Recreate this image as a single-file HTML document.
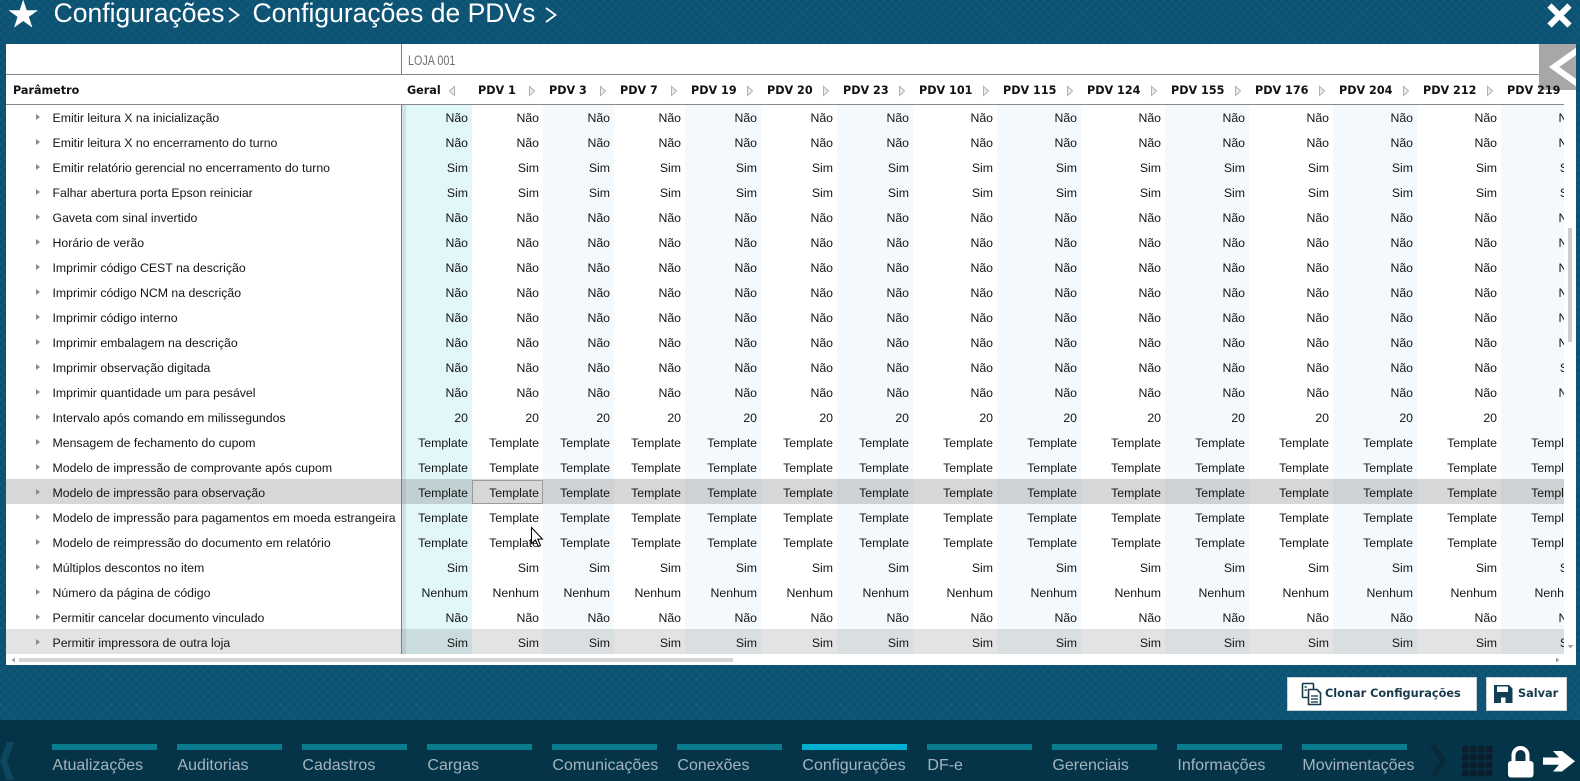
<!DOCTYPE html>
<html><head><meta charset="utf-8">
<style>
*{margin:0;padding:0;box-sizing:border-box}
html,body{width:1580px;height:781px;overflow:hidden}
body{position:relative;background-color:#0b5273;background-image:repeating-linear-gradient(45deg,rgba(255,255,255,.035) 0 1px,transparent 1px 6px),repeating-linear-gradient(-45deg,rgba(255,255,255,.035) 0 1px,transparent 1px 6px);font-family:"Liberation Sans",sans-serif}
.a{position:absolute}
.tt{position:absolute;top:0px;font:26.5px/26px "Liberation Sans",sans-serif;color:#fff;white-space:nowrap}
.h{position:absolute;top:76px;line-height:30px;font:bold 11.2px/30px "DejaVu Sans",sans-serif;color:#111;white-space:nowrap}
.lt{background:#f3f9fd}
.wrap{position:absolute;left:6px;top:106px;width:1558px;height:550px;overflow:hidden}
.t{border-collapse:collapse;table-layout:fixed;width:1579px;font:12.3px "Liberation Sans",sans-serif;color:#141414}
.t td{height:25px;padding:0 4px 0 0;text-align:right;white-space:nowrap;overflow:hidden;line-height:25px}
.t td.p{text-align:left;padding-left:46.5px;position:relative}
.t td.p:before{content:"";position:absolute;left:30px;top:8px;border-left:4px solid #8a8a8a;border-top:3.5px solid transparent;border-bottom:3.5px solid transparent}
.nav{position:absolute;left:0;top:720px;width:1580px;height:61px;background:#053449}
.tabs{position:absolute;left:0;top:720px;width:1417px;height:61px;overflow:hidden}
.nb{position:absolute;top:24px;width:105px;height:6px;background:#0a7c8e}
.nl{position:absolute;top:35px;font:16px/22px "Liberation Sans",sans-serif;color:#a3b4bd;white-space:nowrap}
.btn{position:absolute;top:677px;height:34px;background:#fff;border:1px solid #c9cfd3}
.bt{position:absolute;top:0;line-height:32px;font:bold 11.3px/32px "DejaVu Sans",sans-serif;color:#17394b;white-space:nowrap}
</style></head><body>

<div class="tt" style="left:53.6px">Configurações</div>
<div class="tt" style="left:252.5px">Configurações de PDVs</div>

<!-- panel -->
<div class="a" style="left:6px;top:44px;width:1570px;height:621px;background:#fff"></div>

<!-- stripes -->
<div class="a" style="left:402px;top:105px;width:4px;height:549px;background:#d0e4e7"></div>
<div class="a" style="left:406px;top:105px;width:66px;height:549px;background:#e2f7fa"></div>
<div class="a lt" style="left:543px;top:105px;width:71px;height:549px"></div>
<div class="a lt" style="left:685px;top:105px;width:76px;height:549px"></div>
<div class="a lt" style="left:837px;top:105px;width:76px;height:549px"></div>
<div class="a lt" style="left:997px;top:105px;width:84px;height:549px"></div>
<div class="a lt" style="left:1165px;top:105px;width:84px;height:549px"></div>
<div class="a lt" style="left:1333px;top:105px;width:84px;height:549px"></div>
<div class="a lt" style="left:1501px;top:105px;width:63px;height:549px"></div>

<!-- row highlights -->
<div class="a" style="left:6px;top:479px;width:1558px;height:25px;background:rgba(100,100,100,.26)"></div>
<div class="a" style="left:6px;top:629px;width:1558px;height:25px;background:rgba(100,100,100,.18)"></div>

<!-- lines -->
<div class="a" style="left:401px;top:44px;width:1px;height:30px;background:#7d7d7d"></div>
<div class="a" style="left:401px;top:104px;width:1px;height:550px;background:#7d7d7d"></div>
<div class="a" style="left:6px;top:74px;width:1558px;height:1px;background:#8a8a8a"></div>
<div class="a" style="left:6px;top:104px;width:1558px;height:1px;background:#8a8a8a"></div>

<!-- LOJA -->
<div class="a" style="left:408px;top:51px;font:13.5px/20px 'Liberation Sans',sans-serif;color:#707070;transform:scaleX(.8);transform-origin:0 0;white-space:nowrap">LOJA 001</div>

<div class="wrap">
<table class="t">
<colgroup><col style="width:396px"><col style="width:70px"><col style="width:71px"><col style="width:71px"><col style="width:71px"><col style="width:76px"><col style="width:76px"><col style="width:76px"><col style="width:84px"><col style="width:84px"><col style="width:84px"><col style="width:84px"><col style="width:84px"><col style="width:84px"><col style="width:84px"><col style="width:84px"></colgroup>
<tr><td class="p">Emitir leitura X na inicialização</td><td>Não</td><td>Não</td><td>Não</td><td>Não</td><td>Não</td><td>Não</td><td>Não</td><td>Não</td><td>Não</td><td>Não</td><td>Não</td><td>Não</td><td>Não</td><td>Não</td><td>Não</td></tr>
<tr><td class="p">Emitir leitura X no encerramento do turno</td><td>Não</td><td>Não</td><td>Não</td><td>Não</td><td>Não</td><td>Não</td><td>Não</td><td>Não</td><td>Não</td><td>Não</td><td>Não</td><td>Não</td><td>Não</td><td>Não</td><td>Não</td></tr>
<tr><td class="p">Emitir relatório gerencial no encerramento do turno</td><td>Sim</td><td>Sim</td><td>Sim</td><td>Sim</td><td>Sim</td><td>Sim</td><td>Sim</td><td>Sim</td><td>Sim</td><td>Sim</td><td>Sim</td><td>Sim</td><td>Sim</td><td>Sim</td><td>Sim</td></tr>
<tr><td class="p">Falhar abertura porta Epson reiniciar</td><td>Sim</td><td>Sim</td><td>Sim</td><td>Sim</td><td>Sim</td><td>Sim</td><td>Sim</td><td>Sim</td><td>Sim</td><td>Sim</td><td>Sim</td><td>Sim</td><td>Sim</td><td>Sim</td><td>Sim</td></tr>
<tr><td class="p">Gaveta com sinal invertido</td><td>Não</td><td>Não</td><td>Não</td><td>Não</td><td>Não</td><td>Não</td><td>Não</td><td>Não</td><td>Não</td><td>Não</td><td>Não</td><td>Não</td><td>Não</td><td>Não</td><td>Não</td></tr>
<tr><td class="p">Horário de verão</td><td>Não</td><td>Não</td><td>Não</td><td>Não</td><td>Não</td><td>Não</td><td>Não</td><td>Não</td><td>Não</td><td>Não</td><td>Não</td><td>Não</td><td>Não</td><td>Não</td><td>Não</td></tr>
<tr><td class="p">Imprimir código CEST na descrição</td><td>Não</td><td>Não</td><td>Não</td><td>Não</td><td>Não</td><td>Não</td><td>Não</td><td>Não</td><td>Não</td><td>Não</td><td>Não</td><td>Não</td><td>Não</td><td>Não</td><td>Não</td></tr>
<tr><td class="p">Imprimir código NCM na descrição</td><td>Não</td><td>Não</td><td>Não</td><td>Não</td><td>Não</td><td>Não</td><td>Não</td><td>Não</td><td>Não</td><td>Não</td><td>Não</td><td>Não</td><td>Não</td><td>Não</td><td>Não</td></tr>
<tr><td class="p">Imprimir código interno</td><td>Não</td><td>Não</td><td>Não</td><td>Não</td><td>Não</td><td>Não</td><td>Não</td><td>Não</td><td>Não</td><td>Não</td><td>Não</td><td>Não</td><td>Não</td><td>Não</td><td>Não</td></tr>
<tr><td class="p">Imprimir embalagem na descrição</td><td>Não</td><td>Não</td><td>Não</td><td>Não</td><td>Não</td><td>Não</td><td>Não</td><td>Não</td><td>Não</td><td>Não</td><td>Não</td><td>Não</td><td>Não</td><td>Não</td><td>Não</td></tr>
<tr><td class="p">Imprimir observação digitada</td><td>Não</td><td>Não</td><td>Não</td><td>Não</td><td>Não</td><td>Não</td><td>Não</td><td>Não</td><td>Não</td><td>Não</td><td>Não</td><td>Não</td><td>Não</td><td>Não</td><td>Sim</td></tr>
<tr><td class="p">Imprimir quantidade um para pesável</td><td>Não</td><td>Não</td><td>Não</td><td>Não</td><td>Não</td><td>Não</td><td>Não</td><td>Não</td><td>Não</td><td>Não</td><td>Não</td><td>Não</td><td>Não</td><td>Não</td><td>Não</td></tr>
<tr><td class="p">Intervalo após comando em milissegundos</td><td>20</td><td>20</td><td>20</td><td>20</td><td>20</td><td>20</td><td>20</td><td>20</td><td>20</td><td>20</td><td>20</td><td>20</td><td>20</td><td>20</td><td></td></tr>
<tr><td class="p">Mensagem de fechamento do cupom</td><td>Template</td><td>Template</td><td>Template</td><td>Template</td><td>Template</td><td>Template</td><td>Template</td><td>Template</td><td>Template</td><td>Template</td><td>Template</td><td>Template</td><td>Template</td><td>Template</td><td>Template</td></tr>
<tr><td class="p">Modelo de impressão de comprovante após cupom</td><td>Template</td><td>Template</td><td>Template</td><td>Template</td><td>Template</td><td>Template</td><td>Template</td><td>Template</td><td>Template</td><td>Template</td><td>Template</td><td>Template</td><td>Template</td><td>Template</td><td>Template</td></tr>
<tr><td class="p">Modelo de impressão para observação</td><td>Template</td><td>Template</td><td>Template</td><td>Template</td><td>Template</td><td>Template</td><td>Template</td><td>Template</td><td>Template</td><td>Template</td><td>Template</td><td>Template</td><td>Template</td><td>Template</td><td>Template</td></tr>
<tr><td class="p">Modelo de impressão para pagamentos em moeda estrangeira</td><td>Template</td><td>Template</td><td>Template</td><td>Template</td><td>Template</td><td>Template</td><td>Template</td><td>Template</td><td>Template</td><td>Template</td><td>Template</td><td>Template</td><td>Template</td><td>Template</td><td>Template</td></tr>
<tr><td class="p">Modelo de reimpressão do documento em relatório</td><td>Template</td><td>Template</td><td>Template</td><td>Template</td><td>Template</td><td>Template</td><td>Template</td><td>Template</td><td>Template</td><td>Template</td><td>Template</td><td>Template</td><td>Template</td><td>Template</td><td>Template</td></tr>
<tr><td class="p">Múltiplos descontos no item</td><td>Sim</td><td>Sim</td><td>Sim</td><td>Sim</td><td>Sim</td><td>Sim</td><td>Sim</td><td>Sim</td><td>Sim</td><td>Sim</td><td>Sim</td><td>Sim</td><td>Sim</td><td>Sim</td><td>Sim</td></tr>
<tr><td class="p">Número da página de código</td><td>Nenhum</td><td>Nenhum</td><td>Nenhum</td><td>Nenhum</td><td>Nenhum</td><td>Nenhum</td><td>Nenhum</td><td>Nenhum</td><td>Nenhum</td><td>Nenhum</td><td>Nenhum</td><td>Nenhum</td><td>Nenhum</td><td>Nenhum</td><td>Nenhum</td></tr>
<tr><td class="p">Permitir cancelar documento vinculado</td><td>Não</td><td>Não</td><td>Não</td><td>Não</td><td>Não</td><td>Não</td><td>Não</td><td>Não</td><td>Não</td><td>Não</td><td>Não</td><td>Não</td><td>Não</td><td>Não</td><td>Não</td></tr>
<tr><td class="p">Permitir impressora de outra loja</td><td>Sim</td><td>Sim</td><td>Sim</td><td>Sim</td><td>Sim</td><td>Sim</td><td>Sim</td><td>Sim</td><td>Sim</td><td>Sim</td><td>Sim</td><td>Sim</td><td>Sim</td><td>Sim</td><td>Sim</td></tr>
</table>
</div>

<!-- selected cell -->
<div class="a" style="left:472px;top:480px;width:71px;height:24px;border:1px solid #9b9b9b"></div>

<!-- buttons -->
<div class="btn" style="left:1287px;width:190px"><div class="bt" style="left:37px">Clonar Configurações</div></div>
<div class="btn" style="left:1486px;width:81px"><div class="bt" style="left:31px">Salvar</div></div>

<!-- nav -->
<div class="nav"></div>
<div class="tabs">
<div class="nb" style="left:52.4px"></div><div class="nl" style="left:52.4px">Atualizações</div>
<div class="nb" style="left:177.4px"></div><div class="nl" style="left:177.4px">Auditorias</div>
<div class="nb" style="left:302.4px"></div><div class="nl" style="left:302.4px">Cadastros</div>
<div class="nb" style="left:427.4px"></div><div class="nl" style="left:427.4px">Cargas</div>
<div class="nb" style="left:552.4px"></div><div class="nl" style="left:552.4px">Comunicações</div>
<div class="nb" style="left:677.4px"></div><div class="nl" style="left:677.4px">Conexões</div>
<div class="nb" style="left:802.4px;background:#00b0d0"></div><div class="nl" style="left:802.4px">Configurações</div>
<div class="nb" style="left:927.4px"></div><div class="nl" style="left:927.4px">DF-e</div>
<div class="nb" style="left:1052.4px"></div><div class="nl" style="left:1052.4px">Gerenciais</div>
<div class="nb" style="left:1177.4px"></div><div class="nl" style="left:1177.4px">Informações</div>
<div class="nb" style="left:1302.4px"></div><div class="nl" style="left:1302.4px">Movimentações</div>
</div>

<svg class="a" style="left:0;top:0" width="1580" height="781" viewBox="0 0 1580 781">
<!-- star -->
<polygon fill="#fff" points="23.2,-0.5 26.69,10.19 38,10.19 28.85,16.84 32.35,27.59 23.2,20.94 14.05,27.59 17.55,16.84 8.4,10.19 19.71,10.19"/>
<!-- title chevrons -->
<polyline points="229,8 238.5,15 229,22" fill="none" stroke="#fff" stroke-width="1.8"/>
<polyline points="546,8 555.5,15 546,22" fill="none" stroke="#fff" stroke-width="1.8"/>
<!-- close X -->
<line x1="1549.5" y1="5.5" x2="1569.5" y2="25.5" stroke="#fff" stroke-width="6"/>
<line x1="1569.5" y1="5.5" x2="1549.5" y2="25.5" stroke="#fff" stroke-width="6"/>
<!-- header arrows -->
<g fill="#efefef" stroke="#b0b0b0" stroke-width="1">
<polygon points="454.5,86.5 449.5,91 454.5,95.5"/>
<polygon points="529.5,86.5 534.5,91 529.5,95.5"/>
<polygon points="600.5,86.5 605.5,91 600.5,95.5"/>
<polygon points="671.5,86.5 676.5,91 671.5,95.5"/>
<polygon points="747.5,86.5 752.5,91 747.5,95.5"/>
<polygon points="823.5,86.5 828.5,91 823.5,95.5"/>
<polygon points="899.5,86.5 904.5,91 899.5,95.5"/>
<polygon points="983.5,86.5 988.5,91 983.5,95.5"/>
<polygon points="1067.5,86.5 1072.5,91 1067.5,95.5"/>
<polygon points="1151.5,86.5 1156.5,91 1151.5,95.5"/>
<polygon points="1235.5,86.5 1240.5,91 1235.5,95.5"/>
<polygon points="1319.5,86.5 1324.5,91 1319.5,95.5"/>
<polygon points="1403.5,86.5 1408.5,91 1403.5,95.5"/>
<polygon points="1487.5,86.5 1492.5,91 1487.5,95.5"/>
</g>
<!-- gray side button -->
<rect x="1539" y="44" width="37" height="46" fill="#a7a7a7"/>
<polyline points="1578,50 1554,67 1578,84" fill="none" stroke="#fff" stroke-width="6"/>
<rect x="1576" y="44" width="4" height="46" fill="#0b5273"/>
<!-- vertical scrollbar -->
<rect x="1568" y="228" width="4" height="114" fill="#cdcdcd"/>
<polygon points="1567.5,645 1573.5,645 1570.5,648.5" fill="#a0a0a0"/>
<!-- horizontal scrollbar -->
<polygon points="15,657.5 15,662.5 11.5,660" fill="#a0a0a0"/>
<rect x="19" y="658" width="714" height="4" fill="#d6d6d6"/>
<polygon points="1556,657.5 1556,662.5 1559.5,660" fill="#a0a0a0"/>
<!-- cursor -->
<path transform="translate(531.5,527.5)" d="M0,0 L0,16 L4,12.5 L6.8,19 L9,18 L6.3,11.6 L11,11.6 Z" fill="#fff" stroke="#000" stroke-width="1"/>
<!-- clone icon -->
<g fill="#fff" stroke="#17394b" stroke-width="1.6">
<rect x="1302.5" y="683.5" width="11" height="14" rx="1"/>
<path d="M1308.5,689.5 H1317 L1320.5,693 V704.5 H1308.5 Z"/>
</g>
<g stroke="#17394b" stroke-width="1.3">
<line x1="1304.5" y1="687" x2="1307" y2="687"/>
<line x1="1304.5" y1="690" x2="1307" y2="690"/>
<line x1="1311" y1="696" x2="1318" y2="696"/>
<line x1="1311" y1="699" x2="1318" y2="699"/>
<line x1="1311" y1="702" x2="1318" y2="702"/>
</g>
<!-- floppy icon -->
<path d="M1494,685 H1509 L1512.5,688.5 V703 H1494 Z" fill="#123f55"/>
<rect x="1497" y="686.5" width="11" height="5.5" fill="#fff"/>
<rect x="1501" y="697.5" width="4.5" height="5.5" fill="#fff"/>
<!-- nav widgets -->
<polygon points="14,742 7,742 0,761 7,780 14,780 7,761" fill="#0d4760"/>
<polygon points="1429,745 1436,745 1447,761 1436,777 1429,777 1440,761" fill="#0a2a3a"/>
<g fill="#0a1f2c">
<rect x="1462" y="746" width="6.5" height="6.5"/><rect x="1470" y="746" width="6.5" height="6.5"/><rect x="1478" y="746" width="6.5" height="6.5"/><rect x="1486" y="746" width="6.5" height="6.5"/>
<rect x="1462" y="754" width="6.5" height="6.5"/><rect x="1470" y="754" width="6.5" height="6.5"/><rect x="1478" y="754" width="6.5" height="6.5"/><rect x="1486" y="754" width="6.5" height="6.5"/>
<rect x="1462" y="762" width="6.5" height="6.5"/><rect x="1470" y="762" width="6.5" height="6.5"/><rect x="1478" y="762" width="6.5" height="6.5"/><rect x="1486" y="762" width="6.5" height="6.5"/>
<rect x="1462" y="770" width="6.5" height="6.5"/><rect x="1470" y="770" width="6.5" height="6.5"/><rect x="1478" y="770" width="6.5" height="6.5"/><rect x="1486" y="770" width="6.5" height="6.5"/>
</g>
<path d="M1513.5,763 V755 A7,7 0 0 1 1527.5,755 V763" fill="none" stroke="#fff" stroke-width="4"/>
<rect x="1508" y="761" width="25.5" height="16.5" rx="3" fill="#fff"/>
<polygon points="1543,757.5 1559,757.5 1553,751 1562,751 1575,761.2 1562,771.5 1553,771.5 1559,764.8 1543,764.8" fill="#fff"/>
</svg>

<!-- headers (above overlay) -->
<div class="h" style="left:13px">Parâmetro</div>
<div class="h" style="left:407px">Geral</div>
<div class="h" style="left:478px">PDV 1</div>
<div class="h" style="left:549px">PDV 3</div>
<div class="h" style="left:620px">PDV 7</div>
<div class="h" style="left:691px">PDV 19</div>
<div class="h" style="left:767px">PDV 20</div>
<div class="h" style="left:843px">PDV 23</div>
<div class="h" style="left:919px">PDV 101</div>
<div class="h" style="left:1003px">PDV 115</div>
<div class="h" style="left:1087px">PDV 124</div>
<div class="h" style="left:1171px">PDV 155</div>
<div class="h" style="left:1255px">PDV 176</div>
<div class="h" style="left:1339px">PDV 204</div>
<div class="h" style="left:1423px">PDV 212</div>
<div class="h" style="left:1507px">PDV 219</div>
</body></html>
